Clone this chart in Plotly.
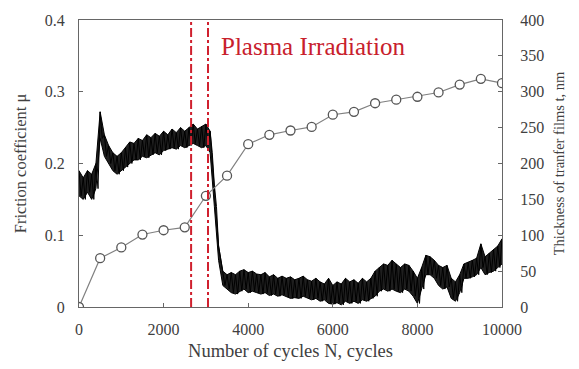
import plotly.graph_objects as go

# Friction coefficient trace (noisy) read as upper / lower envelope every 100 cycles
cycles_mu = list(range(0, 10001, 100))
mu_hi = [0.19, 0.18, 0.19, 0.185, 0.20, 0.272, 0.24, 0.225, 0.215, 0.21,
         0.215, 0.222, 0.23, 0.228, 0.235, 0.232, 0.24, 0.236, 0.242, 0.238,
         0.245, 0.24, 0.248, 0.243, 0.25, 0.245, 0.25, 0.255, 0.248, 0.252,
         0.255, 0.245, 0.17, 0.085, 0.05, 0.045, 0.048, 0.045, 0.05, 0.052,
         0.048, 0.05, 0.046, 0.045, 0.048, 0.042, 0.045, 0.04, 0.043, 0.04,
         0.042, 0.038, 0.04, 0.043, 0.038, 0.036, 0.04, 0.035, 0.032, 0.04,
         0.03, 0.035, 0.032, 0.04, 0.035, 0.038, 0.033, 0.04, 0.035, 0.04,
         0.05, 0.055, 0.06, 0.058, 0.065, 0.06, 0.055, 0.06, 0.058, 0.05,
         0.04, 0.055, 0.072, 0.07, 0.065, 0.058, 0.055, 0.058, 0.04, 0.035,
         0.045, 0.06, 0.062, 0.065, 0.068, 0.088, 0.07, 0.075, 0.08, 0.085,
         0.095]
mu_lo = [0.155, 0.15, 0.16, 0.15, 0.165, 0.235, 0.21, 0.20, 0.19, 0.185,
         0.19, 0.195, 0.20, 0.205, 0.205, 0.21, 0.208, 0.212, 0.215, 0.212,
         0.218, 0.22, 0.222, 0.22, 0.225, 0.222, 0.225, 0.228, 0.225, 0.222,
         0.225, 0.215, 0.14, 0.065, 0.03, 0.025, 0.02, 0.018, 0.022, 0.025,
         0.02, 0.022, 0.02, 0.018, 0.02, 0.016, 0.018, 0.015, 0.017, 0.014,
         0.012, 0.013, 0.012, 0.015, 0.012, 0.01, 0.012, 0.008, 0.01, 0.005,
         0.004, 0.006, 0.003, 0.008, 0.005, 0.008, 0.005, 0.01, 0.008, 0.012,
         0.015, 0.022, 0.025, 0.022, 0.025, 0.022, 0.02, 0.025, 0.022, 0.015,
         0.005, 0.025, 0.045, 0.045, 0.04, 0.03, 0.025, 0.028, 0.012, 0.008,
         0.02, 0.04, 0.04, 0.042, 0.045, 0.055, 0.045, 0.048, 0.05, 0.055,
         0.06]

# Transfer film thickness (nm)
cycles_t = [0, 500, 1000, 1500, 2000, 2500, 3000, 3500, 4000, 4500, 5000,
            5500, 6000, 6500, 7000, 7500, 8000, 8500, 9000, 9500, 10000]
thickness = [0, 68, 83, 101, 107, 111, 155, 183, 227, 240, 246,
             251, 268, 272, 284, 289, 293, 299, 310, 318, 312]

irradiation_bounds = [2650, 3050]
annotation_text = "Plasma Irradiation"

FONT = "Liberation Serif"
AXC = "#666666"
TXT = "#404040"

# zigzag through the envelope to mimic the noisy recorded signal
zx, zy = [], []
for i, c in enumerate(cycles_mu):
    zx.append(c)
    zy.append(mu_hi[i])
    if i < len(cycles_mu) - 1:
        zx.append(c + 50)
        zy.append(mu_lo[i])

fig = go.Figure()

fig.add_trace(go.Scatter(x=cycles_mu, y=mu_hi, mode="lines",
                         line=dict(color="black", width=1), showlegend=False,
                         hoverinfo="skip"))
fig.add_trace(go.Scatter(x=cycles_mu, y=mu_lo, mode="lines",
                         line=dict(color="black", width=1), fill="tonexty",
                         fillcolor="rgba(0,0,0,0.88)", showlegend=False, hoverinfo="skip"))
fig.add_trace(go.Scatter(x=zx, y=zy, mode="lines",
                         line=dict(color="black", width=1), showlegend=False,
                         hoverinfo="skip"))

fig.add_trace(go.Scatter(x=cycles_t, y=thickness, yaxis="y2", mode="lines+markers",
                         line=dict(color="#808080", width=1.2),
                         marker=dict(symbol="circle", size=9, color="white",
                                     line=dict(color="#555555", width=1.3)),
                         showlegend=False))

for xb in irradiation_bounds:
    fig.add_shape(type="line", xref="x", yref="paper", x0=xb, x1=xb, y0=0, y1=1,
                  line=dict(color="#d0202e", width=2, dash="dashdot"))

fig.add_annotation(text=annotation_text, xref="paper", yref="paper",
                   x=0.554, y=0.907, xanchor="center", yanchor="middle",
                   showarrow=False,
                   font=dict(family=FONT, size=25, color="#c8202c"))

fig.update_layout(
    width=579, height=369,
    margin=dict(l=79, r=77, t=19, b=61),
    paper_bgcolor="white", plot_bgcolor="white",
    font=dict(family=FONT, size=15, color=TXT),
    xaxis=dict(range=[0, 10000], dtick=2000, tickformat="d",
               showline=True, linecolor=AXC, linewidth=1, mirror=True,
               ticks="inside", ticklen=4, tickcolor=AXC, showgrid=False,
               zeroline=False, ticklabelstandoff=8,
               title=dict(text="Number of cycles N, cycles", standoff=6,
                          font=dict(family=FONT, size=18.5, color=TXT)),
               tickfont=dict(family=FONT, size=16, color=TXT)),
    yaxis=dict(range=[0, 0.4], dtick=0.1,
               showline=True, linecolor=AXC, linewidth=1, mirror=True,
               ticks="inside", ticklen=4, tickcolor=AXC, showgrid=False,
               zeroline=False, ticklabelstandoff=10,
               title=dict(text="Friction coefficient μ", standoff=14,
                          font=dict(family=FONT, size=16.5, color=TXT)),
               tickfont=dict(family=FONT, size=16, color=TXT)),
    yaxis2=dict(range=[0, 400], dtick=50, overlaying="y", side="right",
                showline=True, linecolor=AXC, linewidth=1,
                ticks="inside", ticklen=4, tickcolor=AXC, showgrid=False,
                zeroline=False, ticklabelstandoff=14,
                title=dict(text="Thickness of tranfer films t, nm", standoff=10,
                           font=dict(family=FONT, size=14.5, color=TXT)),
                tickfont=dict(family=FONT, size=16, color=TXT)),
)

fig.write_html("out.html")
